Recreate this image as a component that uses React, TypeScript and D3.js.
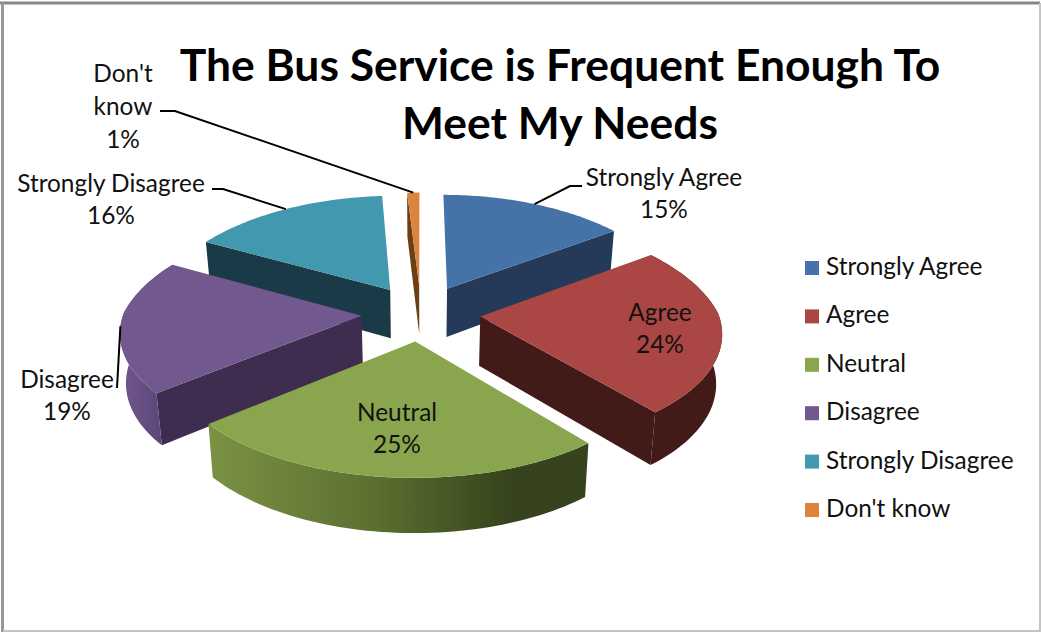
import React from "react";
import * as d3 from "d3";

const categories = ["Strongly Agree", "Agree", "Neutral", "Disagree", "Strongly Disagree", "Don't know"];
const percents = [15, 24, 25, 19, 16, 1];
const topColors = ["#4572a7", "#aa4643", "#89a54e", "#71588f", "#4198af", "#db843d"];
const wallColors = ["#243a58", "#421a17", "url(#greenWall)", "#3f2d50", "#1a3a47", "#6b3e14"];
const arcColors = ["#243a58", "#421a17", "url(#greenWall)", "url(#purpleWall)", "#1a3a47", "#6b3e14"];
const titleLines = ["The Bus Service is Frequent Enough To", "Meet My Needs"];

// label layout: text lines, anchor centre, line baselines, and the leader elbow points
const labelLines = [
  ["Strongly Agree", "15%"],
  ["Agree", "24%"],
  ["Neutral", "25%"],
  ["Disagree", "19%"],
  ["Strongly Disagree", "16%"],
  ["Don't", "know", "1%"],
];
const labelX = [664, 660, 397, 67, 111, 123];
const labelY = [186, 321, 421, 388, 192, 82];
const leaderElbows: [number, number][][] = [
  [[582, 186], [570, 186]],
  [],
  [],
  [[117, 388]],
  [[212, 189], [223, 189]],
  [[160, 111], [175, 111]],
];

const W = 1041;
const H = 632;
const CX = 421;
const CY = 313;
const RX = 238;
const RY = 111.4;
const PERSPECTIVE = 0.125;
const PERSPECTIVE_BACK_X = 0.17;
const EXPLODE = 0.25;
const DEPTH = 49;
const BOTTOM_SHRINK = 0.98;

const xScale = d3.scaleLinear().domain([-1, 1]).range([CX - RX, CX + RX]);
const yScale = d3.scaleLinear().domain([-1, 1]).range([CY - RY, CY + RY]);

type P = [number, number];
// plane coordinates (X right, Z toward viewer) to screen
function project(X: number, Z: number, low = false): P {
  const w = 1 - PERSPECTIVE * Z;
  const wx = 1 - (Z < 0 ? PERSPECTIVE_BACK_X : PERSPECTIVE) * Z;
  const x = xScale(X / wx);
  const y = yScale(Z / w);
  if (!low) return [x, y];
  return [CX + (x - CX) * BOTTOM_SHRINK, y + DEPTH / (1 - 0.09 * Z)];
}

const line = d3.line<P>().x((d) => d[0]).y((d) => d[1]);
const deg = Math.PI / 180;

const arcs = d3.pie<number>().sort(null).value((d) => d)(percents);

function slicePoints(i: number) {
  const a = arcs[i];
  const mid = (a.startAngle + a.endAngle) / 2;
  const ox = EXPLODE * Math.sin(mid);
  const oz = -EXPLODE * Math.cos(mid);
  const at = (ang: number, r: number, low = false) =>
    project(ox + r * Math.sin(ang), oz - r * Math.cos(ang), low);
  const samples = (s: number, e: number, low = false) =>
    d3.range(0, 61).map((k) => at(s + ((e - s) * k) / 60, 1, low));
  return { a, mid, at, samples };
}

function Slice({ i }: { i: number }) {
  const { a, at, samples } = slicePoints(i);
  const parts: React.ReactNode[] = [];
  const { startAngle: s, endAngle: e } = a;
  const quad = (u: number) =>
    line([at(u, 0), at(u, 1), at(u, 1, true), at(u, 0, true)]) + "Z";
  if (Math.sin(s) < -1e-6) parts.push(<path key="s" d={quad(s)} fill={wallColors[i]} />);
  if (Math.sin(e) > 1e-6) parts.push(<path key="e" d={quad(e)} fill={wallColors[i]} />);
  // the whole outer band is drawn when any of it faces front: the top face hides the rest
  if (Math.min(e, 270 * deg) > Math.max(s, 90 * deg)) {
    const pts = [...samples(s, e), ...samples(s, e, true).reverse()];
    parts.push(<path key="o" d={line(pts) + "Z"} fill={arcColors[i]} />);
  }
  const top = [at(s, 0), ...samples(s, e)];
  parts.push(<path key="t" d={line(top) + "Z"} fill={topColors[i]} />);
  return <g>{parts}</g>;
}

const paintOrder = [0, 4, 5, 3, 1, 2];
const LABEL_FONT = "Lato, 'Open Sans', sans-serif";

export default function App() {
  return (
    <svg width={W} height={H} style={{ position: "absolute", left: 0, top: 0 }}>
      <defs>
        <linearGradient id="greenWall" gradientUnits="userSpaceOnUse" x1={206} x2={585} y1={0} y2={0}>
          <stop offset="0" stopColor="#7b9244" />
          <stop offset="0.45" stopColor="#5b6f30" />
          <stop offset="0.8" stopColor="#36431c" />
          <stop offset="1" stopColor="#36431c" />
        </linearGradient>
        <linearGradient id="purpleWall" gradientUnits="userSpaceOnUse" x1={130} x2={165} y1={0} y2={0}>
          <stop offset="0" stopColor="#6c548b" />
          <stop offset="1" stopColor="#5b4575" />
        </linearGradient>
      </defs>
      <rect x={0} y={0} width={W} height={H} fill="#fff" />
      <path d={`M${W - 1} 3H0`} fill="none" stroke="#888" strokeWidth={3} />
      <path d={`M2.5 3V${H}`} fill="none" stroke="#999" strokeWidth={3} />
      <path d={`M${W - 1} 3V${H - 1}H3`} fill="none" stroke="#c4c4c4" strokeWidth={2} />

      {paintOrder.map((i) => (
        <Slice key={i} i={i} />
      ))}

      {titleLines.map((t, i) => (
        <text key={t} x={560} y={81 + i * 58} textAnchor="middle" fontFamily={LABEL_FONT} fontWeight={700} fontSize={44.4} fill="#000">
          {t}
        </text>
      ))}

      {categories.map((c, i) => {
        const elbows = leaderElbows[i];
        if (!elbows.length) return null;
        const { at, mid } = slicePoints(i);
        return (
          <path key={c} d={line([...elbows, at(mid, 1)]) ?? ""} fill="none" stroke="#000" strokeWidth={2} />
        );
      })}

      {labelLines.map((lines, i) =>
        lines.map((t, j) => (
          <text key={i + "-" + j} x={labelX[i]} y={labelY[i] + j * (lines.length === 3 ? 33 : 32)} textAnchor="middle" fontFamily={LABEL_FONT} fontSize={24.4} fill="#111">
            {t}
          </text>
        ))
      )}

      {categories.map((c, i) => (
        <g key={c}>
          <rect x={805} y={261 + i * 48.4} width={14} height={14} fill={topColors[i]} />
          <text x={826} y={275 + i * 48.4} fontFamily={LABEL_FONT} fontSize={24.4} fill="#111">
            {c}
          </text>
        </g>
      ))}
    </svg>
  );
}
